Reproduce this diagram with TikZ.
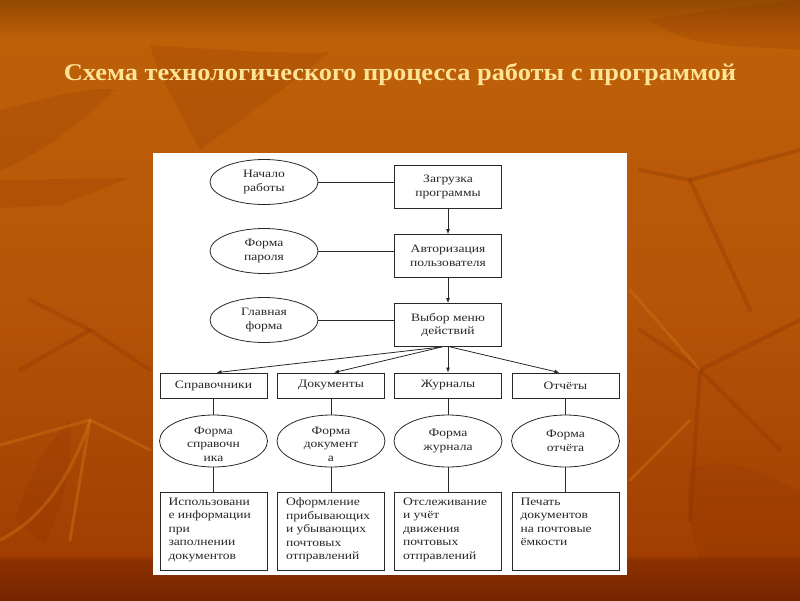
\documentclass[tikz,border=0pt]{standalone}
\usepackage{fontspec}
\setmainfont{Liberation Serif}
\newfontfamily\diagfont[FakeStretch=1.2]{Liberation Serif}
\newfontfamily\titlefont[FakeStretch=1.1]{Liberation Serif Bold}
\usetikzlibrary{shapes.geometric,arrows.meta,calc}
\definecolor{leaf}{RGB}{130,45,0}
\definecolor{leaflight}{RGB}{205,115,20}
\definecolor{titlec}{RGB}{255,228,150}
\definecolor{ink}{RGB}{40,40,40}
\definecolor{bgA}{RGB}{118,36,0}
\definecolor{bgB}{RGB}{140,48,0}
\definecolor{bgC}{RGB}{162,62,2}
\definecolor{bgD}{RGB}{182,84,8}
\definecolor{bgE}{RGB}{190,96,8}
\definecolor{bgF}{RGB}{148,74,2}
\pgfdeclareverticalshading{slidebg}{100bp}{%
  color(0bp)=(bgA); color(25bp)=(bgA); color(28.3bp)=(bgB); color(28.8bp)=(bgC); color(50bp)=(bgD); color(71.7bp)=(bgE); color(75bp)=(bgF); color(100bp)=(bgF)}
\tikzset{
  diag/.style={font=\diagfont\fontsize{11.3}{13.4}\selectfont, text=ink},
  ovalnode/.style={diag, ellipse, draw=ink, line width=0.8pt, fill=white, minimum width=108pt, minimum height=45pt, inner sep=0pt, align=center},
  boxnode/.style={diag, rectangle, draw=ink, line width=0.8pt, fill=white, minimum width=107pt, minimum height=43pt, inner sep=0pt, align=center},
  catbox/.style={diag, rectangle, draw=ink, line width=0.8pt, fill=white, minimum width=107pt, minimum height=25pt, inner sep=0pt},
  formoval/.style={diag, ellipse, draw=ink, line width=0.8pt, fill=white, minimum width=108pt, minimum height=52pt, inner sep=0pt, align=center},
  lowtext/.style={inner ysep=-10pt},
  descbox/.style={diag, rectangle, draw=ink, line width=0.8pt, fill=white, minimum width=107pt, minimum height=78pt, inner sep=0pt},
  link/.style={draw=ink, line width=0.8pt},
  arr/.style={link, -{Latex[length=5pt,width=4pt]}},
  twig/.style={draw=leaf, opacity=0.25, line width=4pt, line cap=round},
  twigl/.style={draw=leaflight, opacity=0.45, line width=3pt, line cap=round},
  leafshape/.style={fill=leaf, opacity=0.16}
}
\newcommand{\desctext}[1]{\parbox[c][72pt][t]{90pt}{\raggedright\vspace*{3pt}#1}}
\begin{document}
\begin{tikzpicture}[x=1pt,y=-1pt]
\useasboundingbox (0,0) rectangle (800,600);
\shade[shading=slidebg] (0,0) rectangle (800,600);
% decorative leaves and twigs
\fill[leafshape] (150,45) .. controls (220,50) and (300,55) .. (330,52) .. controls (290,85) and (240,120) .. (200,150) .. controls (180,110) and (160,80) .. cycle;
\fill[leafshape] (0,180) -- (130,178) -- (60,205) -- (0,208) -- cycle;
\fill[leafshape] (0,110) .. controls (40,100) and (90,85) .. (115,90) .. controls (80,125) and (30,160) .. (0,170) -- cycle;
\fill[leafshape] (15,520) .. controls (30,470) and (50,440) .. (70,420) .. controls (75,470) and (60,510) .. (45,545) -- cycle;
\fill[leafshape] (690,470) .. controls (730,450) and (770,480) .. (800,490) -- (800,560) -- (700,560) .. controls (690,530) and (685,500) .. cycle;
\fill[leafshape] (650,20) .. controls (700,10) and (760,5) .. (800,0) -- (800,50) .. controls (740,45) and (690,50) .. cycle;
\path[twigl] (0,540) .. controls (40,520) and (70,480) .. (90,420);
\path[twigl] (90,420) -- (70,540);
\path[twigl] (90,420) -- (150,450);
\path[twigl] (0,445) -- (90,420);
\path[twig] (30,300) -- (90,330) -- (150,370);
\path[twig] (90,330) -- (20,370);
\path[twig] (640,170) -- (690,180) -- (750,310);
\path[twig] (690,180) -- (800,150);
\path[twig] (640,330) -- (700,370) -- (800,320);
\path[twig] (700,370) -- (690,520);
\path[twig] (700,370) -- (780,450);
\path[twigl] (630,290) -- (700,370);
\path[twigl] (630,480) -- (690,420);
\node[font=\titlefont\fontsize{24}{28}\selectfont, text=titlec] (title) at (400,74) {Схема технологического процесса работы с программой};
% panel
\fill[white] (153,153) rectangle (627,575);
% top part
\node[ovalnode] (start) at (264,182) {Начало\\работы};
\node[boxnode] (load) at (448,187) {Загрузка\\программы};
\node[ovalnode] (pwd) at (264,251) {Форма\\пароля};
\node[boxnode] (auth) at (448,256) {Авторизация\\пользователя};
\node[ovalnode] (mainf) at (264,320) {Главная\\форма};
\node[boxnode] (menu) at (448,325) {Выбор меню\\действий};
\draw[link] (start.east) -- (start.east -| load.west);
\draw[link] (pwd.east) -- (pwd.east -| auth.west);
\draw[link] (mainf.east) -- (mainf.east -| menu.west);
\draw[arr] (load) -- (auth);
\draw[arr] (auth) -- (menu);
% categories
\node[catbox] (sprav) at (213.5,385.5) {Справочники};
\node[catbox] (docs) at (331,385.5) {Документы};
\node[catbox] (jour) at (448,385.5) {Журналы};
\node[catbox] (rep) at (565.5,385.5) {Отчёты};
\coordinate (fan) at ($(menu.south)+(-6,0)$);
\draw[arr] (fan) -- ($(sprav.north)+(3,0)$);
\draw[arr] (fan) -- ($(docs.north)+(3,0)$);
\draw[arr] (menu.south) -- (jour.north);
\draw[arr] ($(menu.south)+(2,0)$) -- ($(rep.north)+(-6,0)$);
% forms
\node[formoval, lowtext] (fsprav) at (213.5,441) {\mbox{}\\Форма\\справочн\\ика};
\node[formoval, lowtext] (fdocs) at (331,441) {\mbox{}\\Форма\\документ\\а};
\node[formoval] (fjour) at (448,441) {Форма\\журнала};
\node[formoval] (frep) at (565.5,441) {Форма\\отчёта};
\foreach \a/\b in {sprav/fsprav, docs/fdocs, jour/fjour, rep/frep} \draw[link] (\a) -- (\b);
% descriptions
\node[descbox] (dsprav) at (213.5,531) {\desctext{Использовани\\е информации\\при\\заполнении\\документов}};
\node[descbox] (ddocs) at (331,531) {\desctext{Оформление\\прибывающих\\и убывающих\\почтовых\\отправлений}};
\node[descbox] (djour) at (448,531) {\desctext{Отслеживание\\и учёт\\движения\\почтовых\\отправлений}};
\node[descbox] (drep) at (565.5,531) {\desctext{Печать\\документов\\на почтовые\\ёмкости}};
\foreach \a/\b in {fsprav/dsprav, fdocs/ddocs, fjour/djour, frep/drep} \draw[link] (\a) -- (\b);
\end{tikzpicture}
\end{document}
